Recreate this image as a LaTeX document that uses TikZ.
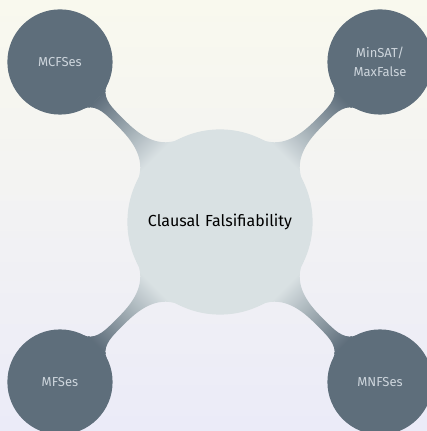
\documentclass[tikz,border=0pt]{standalone}
\usepackage{fontspec}
\setmainfont{Fira Sans}
\usetikzlibrary{mindmap}
\definecolor{slate}{HTML}{5E6E7B}
\definecolor{mist}{HTML}{D9E1E3}
\definecolor{topbg}{HTML}{F9F9EE}
\definecolor{botbg}{HTML}{EBEBF8}
\definecolor{leaftext}{HTML}{CDD5DC}
\begin{document}
\begin{tikzpicture}[x=1pt,y=1pt]
  % page and background
  \useasboundingbox (0,0) rectangle (427,431);
  \shade[top color=topbg, bottom color=botbg] (0,0) rectangle (427,431);
  % mind map: hub and four branches
  \path[mindmap, concept color=mist, text=black,
    hub/.style={concept, minimum size=184pt, text width=170pt,
      font=\fontsize{16}{19}\selectfont},
    level 1 concept/.append style={level distance=226.3pt,
      minimum size=104pt, text width=90pt, text=leaftext,
      font=\fontsize{13}{19.5}\selectfont}]
    node[hub] (root) at (220,209) {Clausal Falsifiability}
    child[concept color=slate, grow=135] {node[concept] (mcf) {MCFSes}}
    child[concept color=slate, grow=45] {node[concept] (msat) {MinSAT/\\MaxFalse}}
    child[concept color=slate, grow=225] {node[concept] (mfs) {MFSes}}
    child[concept color=slate, grow=315] {node[concept] (mnf) {MNFSes}};
\end{tikzpicture}
\end{document}
